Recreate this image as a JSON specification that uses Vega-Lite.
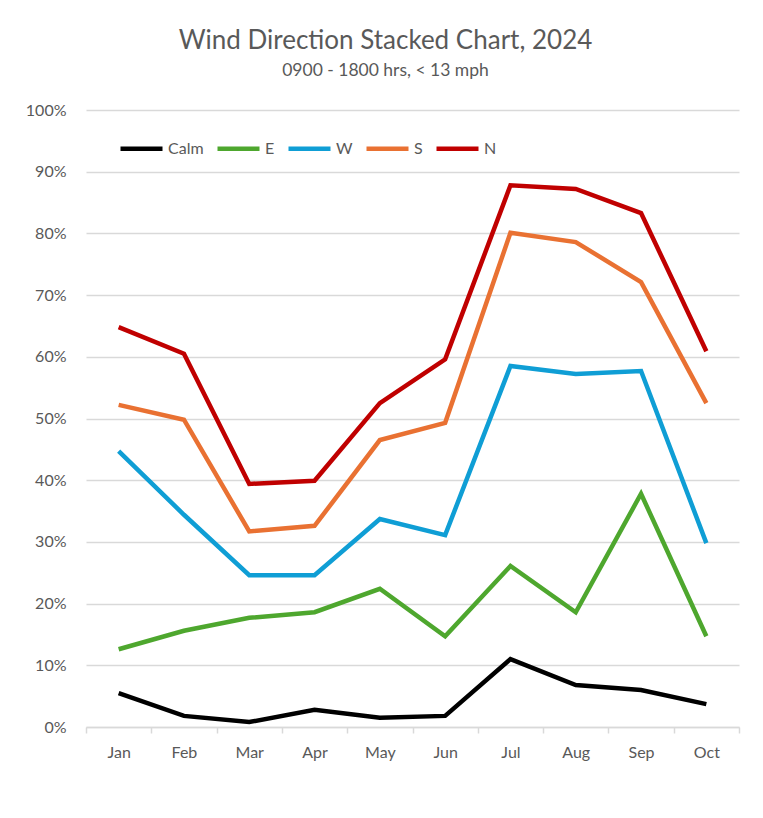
{
  "$schema": "https://vega.github.io/schema/vega-lite/v6.json",
  "width": 653,
  "height": 617,
  "autosize": {"type": "none"},
  "padding": {"left": 86, "top": 110, "right": 24, "bottom": 91},
  "background": "white",
  "title": {
    "text": "Wind Direction Stacked Chart, 2024",
    "subtitle": "0900 - 1800 hrs, < 13 mph",
    "anchor": "middle",
    "dx": -27,
    "offset": 23,
    "font": "Lato",
    "fontSize": 26,
    "fontWeight": "normal",
    "color": "#595959",
    "subtitleFont": "Lato",
    "subtitleFontSize": 17.5,
    "subtitleColor": "#595959",
    "subtitlePadding": 8
  },
  "data": {
    "values": [
      {"month": "Jan", "series": "Calm", "value": 0.055},
      {"month": "Feb", "series": "Calm", "value": 0.018},
      {"month": "Mar", "series": "Calm", "value": 0.008},
      {"month": "Apr", "series": "Calm", "value": 0.028},
      {"month": "May", "series": "Calm", "value": 0.015},
      {"month": "Jun", "series": "Calm", "value": 0.018},
      {"month": "Jul", "series": "Calm", "value": 0.110},
      {"month": "Aug", "series": "Calm", "value": 0.068},
      {"month": "Sep", "series": "Calm", "value": 0.060},
      {"month": "Oct", "series": "Calm", "value": 0.037},
      {"month": "Jan", "series": "E", "value": 0.126},
      {"month": "Feb", "series": "E", "value": 0.156},
      {"month": "Mar", "series": "E", "value": 0.177},
      {"month": "Apr", "series": "E", "value": 0.186},
      {"month": "May", "series": "E", "value": 0.224},
      {"month": "Jun", "series": "E", "value": 0.147},
      {"month": "Jul", "series": "E", "value": 0.261},
      {"month": "Aug", "series": "E", "value": 0.186},
      {"month": "Sep", "series": "E", "value": 0.378},
      {"month": "Oct", "series": "E", "value": 0.147},
      {"month": "Jan", "series": "W", "value": 0.447},
      {"month": "Feb", "series": "W", "value": 0.344},
      {"month": "Mar", "series": "W", "value": 0.246},
      {"month": "Apr", "series": "W", "value": 0.246},
      {"month": "May", "series": "W", "value": 0.337},
      {"month": "Jun", "series": "W", "value": 0.311},
      {"month": "Jul", "series": "W", "value": 0.585},
      {"month": "Aug", "series": "W", "value": 0.572},
      {"month": "Sep", "series": "W", "value": 0.577},
      {"month": "Oct", "series": "W", "value": 0.298},
      {"month": "Jan", "series": "S", "value": 0.522},
      {"month": "Feb", "series": "S", "value": 0.498},
      {"month": "Mar", "series": "S", "value": 0.317},
      {"month": "Apr", "series": "S", "value": 0.326},
      {"month": "May", "series": "S", "value": 0.465},
      {"month": "Jun", "series": "S", "value": 0.493},
      {"month": "Jul", "series": "S", "value": 0.801},
      {"month": "Aug", "series": "S", "value": 0.786},
      {"month": "Sep", "series": "S", "value": 0.721},
      {"month": "Oct", "series": "S", "value": 0.525},
      {"month": "Jan", "series": "N", "value": 0.648},
      {"month": "Feb", "series": "N", "value": 0.605},
      {"month": "Mar", "series": "N", "value": 0.394},
      {"month": "Apr", "series": "N", "value": 0.399},
      {"month": "May", "series": "N", "value": 0.525},
      {"month": "Jun", "series": "N", "value": 0.596},
      {"month": "Jul", "series": "N", "value": 0.878},
      {"month": "Aug", "series": "N", "value": 0.872},
      {"month": "Sep", "series": "N", "value": 0.833},
      {"month": "Oct", "series": "N", "value": 0.609}
    ]
  },
  "mark": {"type": "line", "strokeWidth": 4.5},
  "encoding": {
    "x": {
      "field": "month",
      "type": "ordinal",
      "sort": ["Jan", "Feb", "Mar", "Apr", "May", "Jun", "Jul", "Aug", "Sep", "Oct"],
      "scale": {"type": "band", "paddingInner": 0, "paddingOuter": 0},
      "axis": {
        "title": null,
        "labelAngle": 0,
        "labelFont": "Lato",
        "labelFontSize": 16,
        "labelColor": "#595959",
        "labelPadding": 11,
        "domainColor": "#d9d9d9",
        "domainWidth": 1.5,
        "tickColor": "#d9d9d9",
        "tickWidth": 1.5,
        "tickSize": 6,
        "tickBand": "extent",
        "grid": false
      }
    },
    "y": {
      "field": "value",
      "type": "quantitative",
      "scale": {"domain": [0, 1], "nice": false},
      "axis": {
        "title": null,
        "values": [0, 0.1, 0.2, 0.3, 0.4, 0.5, 0.6, 0.7, 0.8, 0.9, 1],
        "format": ".0%",
        "labelFont": "Lato",
        "labelFontSize": 16,
        "labelColor": "#595959",
        "labelPadding": 20,
        "ticks": false,
        "domain": false,
        "grid": true,
        "gridColor": "#d9d9d9",
        "gridWidth": 1.5
      }
    },
    "color": {
      "field": "series",
      "type": "nominal",
      "scale": {
        "domain": ["Calm", "E", "W", "S", "N"],
        "range": ["#000000", "#4EA72E", "#0F9ED5", "#E97132", "#C00000"]
      },
      "legend": {
        "title": null,
        "orient": "none",
        "direction": "horizontal",
        "legendX": 32,
        "legendY": 15,
        "symbolType": "stroke",
        "symbolSize": 1764,
        "symbolStrokeWidth": 4.5,
        "labelFont": "Lato",
        "labelFontSize": 16,
        "labelColor": "#595959",
        "labelOffset": 3,
        "columnPadding": 4
      }
    }
  },
  "config": {"view": {"stroke": null}}
}
